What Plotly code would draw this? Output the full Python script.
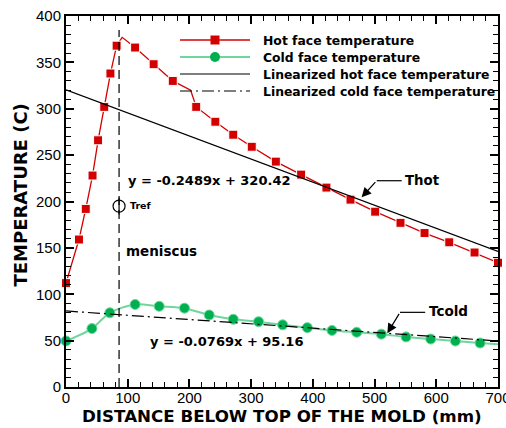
import plotly.graph_objects as go

# Hot face thermocouple profile (mm below top of mold, deg C)
hot_x = [0, 21, 32, 43, 52, 62, 72, 82, 91, 112, 142, 173, 202, 211, 242, 271,
         301, 340, 381, 422, 461, 501, 542, 581, 621, 662, 700]
hot_y = [112, 159, 192, 228, 266, 302, 338, 368, 377, 366, 348, 330, 320, 302, 286, 272,
         259, 243, 229, 215, 202, 189, 177, 166, 156, 145, 134]
hot_marked = [1, 1, 1, 1, 1, 1, 1, 1, 0, 1, 1, 1, 0, 1, 1, 1,
              1, 1, 1, 1, 1, 1, 1, 1, 1, 1, 1]

# Cold face profile
cold_x = [0, 42, 71, 112, 151, 192, 232, 271, 312, 351, 391, 431, 471, 511,
          551, 591, 631, 671, 700]
cold_y = [49.6, 63, 80, 89, 87, 85, 77.6, 73, 70.4, 67, 64, 61, 59, 57,
          54, 51.7, 49.6, 47.4, 46]
cold_marked = [1] * 18 + [0]

# Linear fit of the hot face
hot_slope, hot_intercept = -0.2489, 320.42
fit_x = [0, 700]
# Linearized cold face line end values
cold_fit_y = [82, 49.6]

meniscus_x = 86
meniscus_top = 385
tref = (86, 195)

legend_names = ["Hot face temperature", "Cold face temperature",
                "Linearized hot face temperature", "Linearized cold face temperature"]
x_title = "DISTANCE BELOW TOP OF THE MOLD (mm)"
y_title = "TEMPERATURE (C)"

RED = "#d40000"
GREEN_M = "#00b050"
GREEN_L = "#6fd69c"
TICKFONT = "Arial, Liberation Sans, sans-serif"
LABELFONT = "DejaVu Sans, Verdana, sans-serif"

W, H = 506, 428
ML, MR, MT, MB = 66, 8, 16, 41
XR, YR = (0, 700), (0, 400)
PW, PH = W - ML - MR, H - MT - MB


def px_x(px):
    """Pixel column -> x data value."""
    return XR[0] + (px - ML) / PW * (XR[1] - XR[0])


def px_y(py):
    """Pixel row -> y data value."""
    return YR[0] + (H - MB - py) / PH * (YR[1] - YR[0])


def bold(size):
    return dict(family=LABELFONT, size=size, color="black", weight="bold")


hot_line = dict(color=RED, width=1.3)
hot_marker = dict(symbol="square", color=RED, opacity=1, size=9)
cold_line = dict(color=GREEN_L, width=2)
cold_marker = dict(symbol="circle", color=GREEN_M, opacity=1, size=10)
fit_hot_line = dict(color="black", width=1.2)
fit_cold_line = dict(color="black", width=1.2, dash="12px,4px,2px,4px")

fig = go.Figure()

fig.add_trace(go.Scatter(
    x=hot_x, y=hot_y, mode="lines+markers", name=legend_names[0],
    line=hot_line,
    marker={**hot_marker, "size": [9 * m for m in hot_marked]},
    cliponaxis=False))
fig.add_trace(go.Scatter(
    x=cold_x, y=cold_y, mode="lines+markers", name=legend_names[1],
    line={**cold_line, "shape": "spline", "smoothing": 0.8},
    marker={**cold_marker, "size": [10 * m for m in cold_marked]},
    cliponaxis=False))
fig.add_trace(go.Scatter(
    x=fit_x, y=[hot_slope * v + hot_intercept for v in fit_x], mode="lines",
    name=legend_names[2], line=fit_hot_line))
fig.add_trace(go.Scatter(
    x=fit_x, y=cold_fit_y, mode="lines", name=legend_names[3], line=fit_cold_line))

# Meniscus position and reference thermocouple
fig.add_trace(go.Scatter(
    x=[meniscus_x, meniscus_x], y=[0, meniscus_top], mode="lines",
    line=dict(color="black", width=1.2, dash="9px,5px")))
fig.add_trace(go.Scatter(
    x=[tref[0]], y=[tref[1]], mode="markers",
    marker=dict(symbol="circle-open", size=12, color="black", line=dict(width=1.2))))
fig.add_trace(go.Scatter(
    x=[tref[0]], y=[tref[1]], mode="markers",
    marker=dict(symbol="line-ns-open", size=12, color="black", line=dict(width=1.2))))

# Legend block drawn inside the frame
legend_rows = [40, 57, 74, 91]
legend_styles = [(hot_line, hot_marker), (cold_line, cold_marker),
                 (fit_hot_line, None), (fit_cold_line, None)]
for name, row, (ln, mk) in zip(legend_names, legend_rows, legend_styles):
    fig.add_trace(go.Scatter(x=[px_x(180), px_x(250)], y=[px_y(row)] * 2,
                             mode="lines", line=ln, cliponaxis=False))
    if mk is not None:
        fig.add_trace(go.Scatter(x=[px_x(215)], y=[px_y(row)], mode="markers",
                                 marker=mk, cliponaxis=False))
    fig.add_annotation(x=px_x(261), y=px_y(row), xref="x", yref="y", text=name,
                       xanchor="left", yanchor="middle", showarrow=False,
                       font=bold(12.4))

ann = [
    dict(x=98, y=222.7, text="y = -0.2489x + 320.42", font=bold(13)),
    dict(x=133, y=49.6, text="y = -0.0769x + 95.16", font=bold(13)),
    dict(x=94, y=147, text="meniscus", font=bold(13.5)),
    dict(x=101, y=196, text="Tref", font=bold(9.5)),
    dict(x=546, y=223, text="Thot", font=bold(13.3)),
    dict(x=585, y=82, text="Tcold", font=bold(13.5)),
]
for a in ann:
    fig.add_annotation(xref="x", yref="y", xanchor="left", yanchor="middle",
                       showarrow=False, **a)

# Leader arrows
for (tx, ty), (hx, hy), ex in [((479, 204.5), (503.5, 222.4), 544),
                               ((520.7, 57.9), (541.2, 80.5), 582)]:
    fig.add_annotation(x=tx, y=ty, ax=hx, ay=hy, xref="x", yref="y",
                       axref="x", ayref="y", text="", showarrow=True,
                       arrowhead=2, arrowsize=1.6, arrowwidth=1.2, arrowcolor="black")
    fig.add_shape(type="line", x0=hx, y0=hy, x1=ex, y1=hy, xref="x", yref="y",
                  line=dict(color="black", width=1.2))

# Axis titles
fig.add_annotation(x=(282 - ML) / PW, y=(H - MB - 416) / PH,
                   xref="paper", yref="paper", text=x_title, showarrow=False,
                   xanchor="center", yanchor="middle", font=bold(16.7))
fig.add_annotation(x=(19.5 - ML) / PW, y=(H - MB - 195) / PH,
                   xref="paper", yref="paper", text=y_title, textangle=-90,
                   showarrow=False, xanchor="center", yanchor="middle", font=bold(18))

axis_common = dict(
    showgrid=False, zeroline=False, showline=True, linecolor="black", linewidth=2,
    mirror="allticks", ticks="inside", ticklen=8, tickwidth=1.5, tickcolor="black",
    tickfont=dict(family=TICKFONT, size=15, color="black"),
    ticklabeloverflow="allow", automargin=False,
)
fig.update_xaxes(range=list(XR), dtick=100, tick0=0, ticklabelstandoff=-4,
                 minor=dict(dtick=20, ticks="inside", ticklen=5, tickcolor="black", tickwidth=1),
                 **axis_common)
fig.update_yaxes(range=list(YR), dtick=50, tick0=0,
                 minor=dict(dtick=10, ticks="inside", ticklen=5, tickcolor="black", tickwidth=1),
                 **axis_common)

fig.update_layout(
    width=W, height=H,
    margin=dict(l=ML, r=MR, t=MT, b=MB),
    paper_bgcolor="white", plot_bgcolor="white",
    showlegend=False,
)

fig.write_html("out.html")
